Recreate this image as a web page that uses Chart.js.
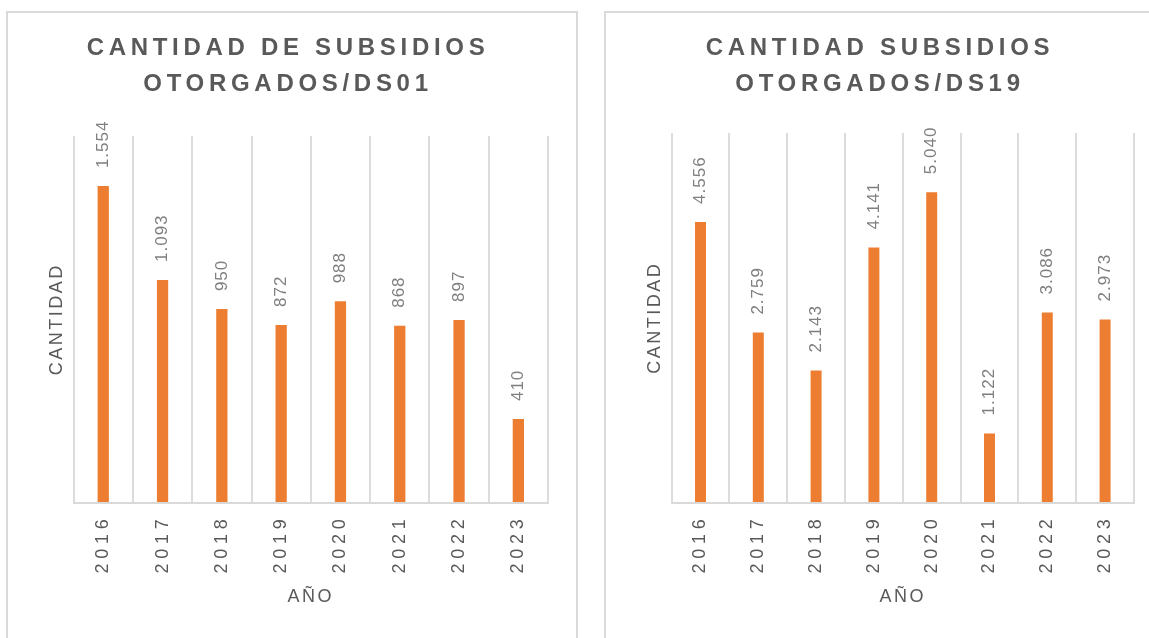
<!DOCTYPE html>
<html>
<head>
<meta charset="utf-8">
<script src="https://cdn.jsdelivr.net/npm/chart.js@4.4.1/dist/chart.umd.min.js"></script>
<style>
  body { margin: 0; background: #fff; }
  .panel { position: absolute; top: 11px; height: 640px; border: 2px solid #d9d9d9; background: #fff; overflow: hidden; }
  #p1 { left: 6px; width: 568px; }
  #p2 { left: 604px; width: 570px; }
</style>
</head>
<body>
<div class="panel" id="p1"><canvas id="c1" width="568" height="630"></canvas></div>
<div class="panel" id="p2"><canvas id="c2" width="560" height="630"></canvas></div>
<script>
// datos
const years = ['2016', '2017', '2018', '2019', '2020', '2021', '2022', '2023'];
const ds01Values = [1554, 1093, 950, 872, 988, 868, 897, 410];
const ds19Values = [4556, 2759, 2143, 4141, 5040, 1122, 3086, 2973];
const ds01Title = ['CANTIDAD DE SUBSIDIOS', 'OTORGADOS/DS01'];
const ds19Title = ['CANTIDAD SUBSIDIOS', 'OTORGADOS/DS19'];
const yTitle = 'CANTIDAD';
const xTitle = 'AÑO';

const FONT = "'Liberation Sans', Arial, sans-serif";
const DARK = '#595959';

function fmt(v) {
    return String(v).replace(/\B(?=(\d{3})+(?!\d))/g, '.');
}

// espaciado de letras + etiquetas de datos
const spacingPlugin = {
    id: 'spacing',
    beforeUpdate(chart) { chart.ctx.letterSpacing = '4.7px'; },
    beforeDraw(chart) { chart.ctx.letterSpacing = '4.7px'; },
    afterDatasetsDraw(chart) {
        const ctx = chart.ctx;
        const meta = chart.getDatasetMeta(0);
        const data = chart.data.datasets[0].data;
        ctx.save();
        ctx.letterSpacing = '1px';
        ctx.font = '17px ' + FONT;
        ctx.fillStyle = '#7f7f7f';
        ctx.textAlign = 'left';
        ctx.textBaseline = 'middle';
        meta.data.forEach((bar, i) => {
            ctx.save();
            ctx.translate(bar.x, bar.y - 18);
            ctx.rotate(-Math.PI / 2);
            ctx.fillText(fmt(data[i]), 0, 0);
            ctx.restore();
        });
        ctx.restore();
        ctx.letterSpacing = '2.5px';
    },
    afterDraw(chart) { chart.ctx.letterSpacing = '0px'; }
};

function makeChart(id, title, values, yMax, right, titleBottom) {
    const ctx = document.getElementById(id).getContext('2d');
    return new Chart(ctx, {
        type: 'bar',
        data: {
            labels: years,
            datasets: [{
                data: values,
                backgroundColor: '#ED7D31',
                barPercentage: 0.19,
                categoryPercentage: 1
            }]
        },
        options: {
            responsive: false,
            animation: false,
            devicePixelRatio: 1,
            layout: { padding: { left: 20, right: right, top: 0, bottom: 0 } },
            plugins: {
                legend: { display: false },
                tooltip: { enabled: false },
                title: {
                    display: true,
                    text: title,
                    color: DARK,
                    font: { family: FONT, size: 24, weight: 'bold', lineHeight: 1.5 },
                    padding: { top: 17, bottom: titleBottom }
                }
            },
            scales: {
                x: {
                    grid: { color: '#dcdcdc', lineWidth: 2, drawTicks: false, z: 1 },
                    border: { color: '#d9d9d9', width: 2, z: 2 },
                    ticks: {
                        color: DARK,
                        font: { family: FONT, size: 18 },
                        minRotation: 90,
                        maxRotation: 90,
                        padding: 12
                    },
                    title: {
                        display: true,
                        text: xTitle,
                        color: DARK,
                        font: { family: FONT, size: 18, lineHeight: 1.2 },
                        padding: { top: 1, bottom: 35 }
                    }
                },
                y: {
                    min: 0,
                    max: yMax,
                    grid: { display: false, drawTicks: false, z: 1 },
                    border: { display: false },
                    ticks: { display: false },
                    title: {
                        display: true,
                        text: yTitle,
                        color: DARK,
                        font: { family: FONT, size: 18, lineHeight: 1.2 },
                        padding: { top: 18, bottom: 6 }
                    }
                }
            }
        },
        plugins: [spacingPlugin]
    });
}

makeChart('c1', ds01Title, ds01Values, 1800, 28, 34);
makeChart('c2', ds19Title, ds19Values, 6000, 32, 31);
</script>
</body>
</html>
